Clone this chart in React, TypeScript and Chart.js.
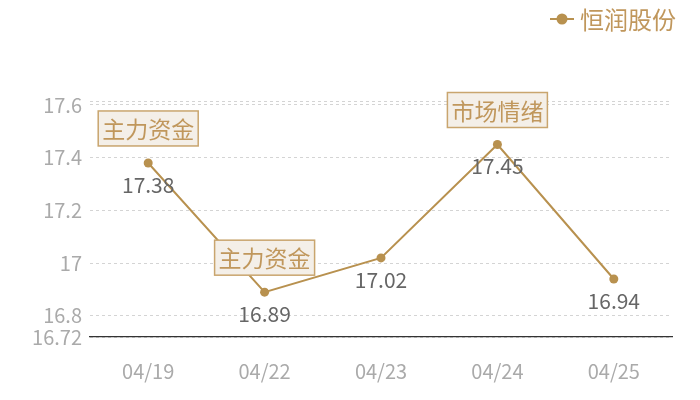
import React, { useEffect, useRef } from "react";
import { Chart, registerables } from "chart.js";

Chart.register(...registerables);

const categories = ["04/19", "04/22", "04/23", "04/24", "04/25"];
const seriesName = "恒润股份";
const prices = [17.38, 16.89, 17.02, 17.45, 16.94];
const yTickValues = [16.72, 16.8, 17, 17.2, 17.4, 17.6];
const yMin = 16.72;
const yMax = 17.615;
const markIndices = [0, 1, 3];
const markTexts = ["主力资金", "主力资金", "市场情绪"];

const GOLD = "#b8914f";
const FONT = "'Noto Sans CJK SC', 'Noto Sans', sans-serif";

const overlayPlugin = {
  id: "overlay",
  afterDatasetsDraw(chart: any) {
    const ctx = chart.ctx;
    const meta = chart.getDatasetMeta(0);
    ctx.save();
    // value labels
    ctx.font = `21px ${FONT}`;
    ctx.fillStyle = "#666";
    ctx.textAlign = "center";
    ctx.textBaseline = "middle";
    meta.data.forEach((pt: any, i: number) => {
      ctx.fillText(String(prices[i]), pt.x, pt.y + 22);
    });
    // mark boxes
    ctx.font = `23px ${FONT}`;
    markIndices.forEach((idx, k) => {
      const pt = meta.data[idx];
      const text = markTexts[k];
      const tw = ctx.measureText(text).width;
      const w = tw + 8;
      const h = 35;
      const x = pt.x - w / 2;
      const y = pt.y - 17 - h;
      ctx.fillStyle = "#f4efe8";
      ctx.fillRect(x, y, w, h);
      ctx.strokeStyle = "#c9a56e";
      ctx.lineWidth = 1.5;
      ctx.strokeRect(x, y, w, h);
      ctx.fillStyle = "#c0975c";
      ctx.fillText(text, pt.x, y + h / 2 + 1);
    });
    // legend
    const lx = 550;
    const ly = 19;
    ctx.strokeStyle = GOLD;
    ctx.lineWidth = 2;
    ctx.beginPath();
    ctx.moveTo(lx, ly);
    ctx.lineTo(lx + 24, ly);
    ctx.stroke();
    ctx.fillStyle = GOLD;
    ctx.beginPath();
    ctx.arc(lx + 12, ly, 5.5, 0, Math.PI * 2);
    ctx.fill();
    ctx.font = `24px ${FONT}`;
    ctx.fillStyle = "#c0975c";
    ctx.textAlign = "left";
    ctx.fillText(chart.data.datasets[0].label, lx + 30, ly + 1);
    ctx.restore();
  },
};

export default function App() {
  const ref = useRef<HTMLCanvasElement>(null);
  useEffect(() => {
    document.body.style.margin = "0";
    const chart = new Chart(ref.current!, {
      type: "line",
      data: {
        labels: categories,
        datasets: [
          {
            label: seriesName,
            data: prices,
            borderColor: GOLD,
            backgroundColor: GOLD,
            borderWidth: 2,
            pointRadius: 4.5,
            pointBackgroundColor: GOLD,
            pointBorderWidth: 0,
            tension: 0,
          },
        ],
      },
      options: {
        animation: false,
        responsive: false,
        devicePixelRatio: 1,
        layout: { padding: { top: 101, right: 28, left: 0, bottom: 0 } },
        plugins: { legend: { display: false }, tooltip: { enabled: false } },
        scales: {
          x: {
            offset: true,
            grid: { display: false, drawTicks: false },
            border: { display: true, color: "#333", width: 1.2 },
            ticks: {
              color: "#aaa",
              font: { size: 20, family: FONT },
              padding: 22,
            },
            afterFit: (s: any) => {
              s.height = 63;
            },
          },
          y: {
            min: yMin,
            max: yMax,
            afterBuildTicks: (s: any) => {
              s.ticks = [...yTickValues, yMax].map((v) => ({ value: v }));
            },
            grid: {
              color: "#d4d4d4",
              drawTicks: false,
              lineWidth: 1,
            },
            border: { display: false, dash: [3, 3] },
            ticks: {
              color: "#aaa",
              font: { size: 20, family: FONT },
              padding: 8,
              autoSkip: false,
              callback: (v: any) => (v === yMax ? "" : String(+Number(v).toFixed(2))),
            },
            afterFit: (s: any) => {
              s.width = 90;
            },
          },
        },
      },
      plugins: [overlayPlugin],
    } as any);
    return () => chart.destroy();
  }, []);
  return <canvas ref={ref} width={700} height={400} style={{ display: "block" }} />;
}
